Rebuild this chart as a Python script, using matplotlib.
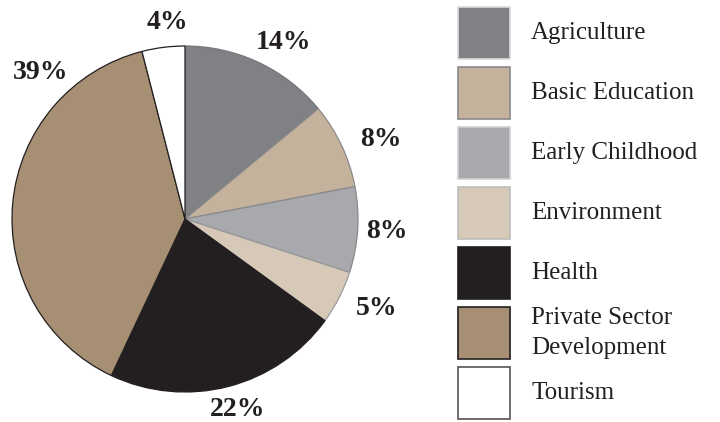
import numpy as np
import matplotlib.pyplot as plt
from matplotlib.patches import Rectangle

sectors = ["Agriculture", "Basic Education", "Early Childhood", "Environment",
           "Health", "Private Sector\nDevelopment", "Tourism"]
shares = [14, 8, 8, 5, 22, 39, 4]
colors = ["#808184", "#c4b29d", "#a7a9ac", "#d7c9b8", "#231f20", "#a68f72", "#ffffff"]
edge_colors = ["#77787b", "#8a8a8c", "#8a8a8c", "#9a9a9a", "#231f20", "#231f20", "#231f20"]
legend_edges = ["#dcdcdc", "#8a8a8c", "#d0d0d0", "#bdbdbd", "#231f20", "#231f20", "#555555"]

plt.rcParams['font.family'] = ['Liberation Serif', 'DejaVu Serif']

W, H = 720, 422
fig = plt.figure(figsize=(W / 100, H / 100), dpi=100)

# pie centred at (185, 219) px with radius 173 px
cx, cy, r = 185, 219, 173
ax = fig.add_axes([(cx - r) / W, (H - cy - r) / H, 2 * r / W, 2 * r / H])
wedges, _ = ax.pie(shares, colors=colors, startangle=90, counterclock=False,
                   wedgeprops=dict(linewidth=0.9))
for w, ec in zip(wedges, edge_colors):
    w.set_edgecolor(ec)
ax.set_xlim(-1, 1)
ax.set_ylim(-1, 1)
ax.set_aspect('equal')
ax.axis('off')

# percentage labels around the rim
label_dist = [1.17, 1.22, 1.17, 1.22, 1.14, 1.19, 1.14]
angle_shift = [-4, -3, 0, 2, 1, -40, -2]
for i, (w, val) in enumerate(zip(wedges, shares)):
    ang = np.deg2rad((w.theta1 + w.theta2) / 2 + angle_shift[i])
    d = label_dist[i]
    ax.text(d * np.cos(ang), d * np.sin(ang), f"{val}%", ha='center', va='center',
            fontsize=20, fontweight='bold', color='#231f20', clip_on=False)

# legend: swatches down the right side
lax = fig.add_axes([0, 0, 1, 1])
lax.set_xlim(0, W)
lax.set_ylim(H, 0)
lax.axis('off')
sw, step, top = 52, 60, 7
for i, (name, c, ec) in enumerate(zip(sectors, colors, legend_edges)):
    y0 = top + i * step
    lax.add_patch(Rectangle((458, y0), sw, sw, facecolor=c, edgecolor=ec, linewidth=1.2))
    lax.text(531, y0 + sw / 2, name, ha='left', va='center', fontsize=18,
             color='#231f20', linespacing=1.5)

fig.savefig("out.png", dpi=100)
